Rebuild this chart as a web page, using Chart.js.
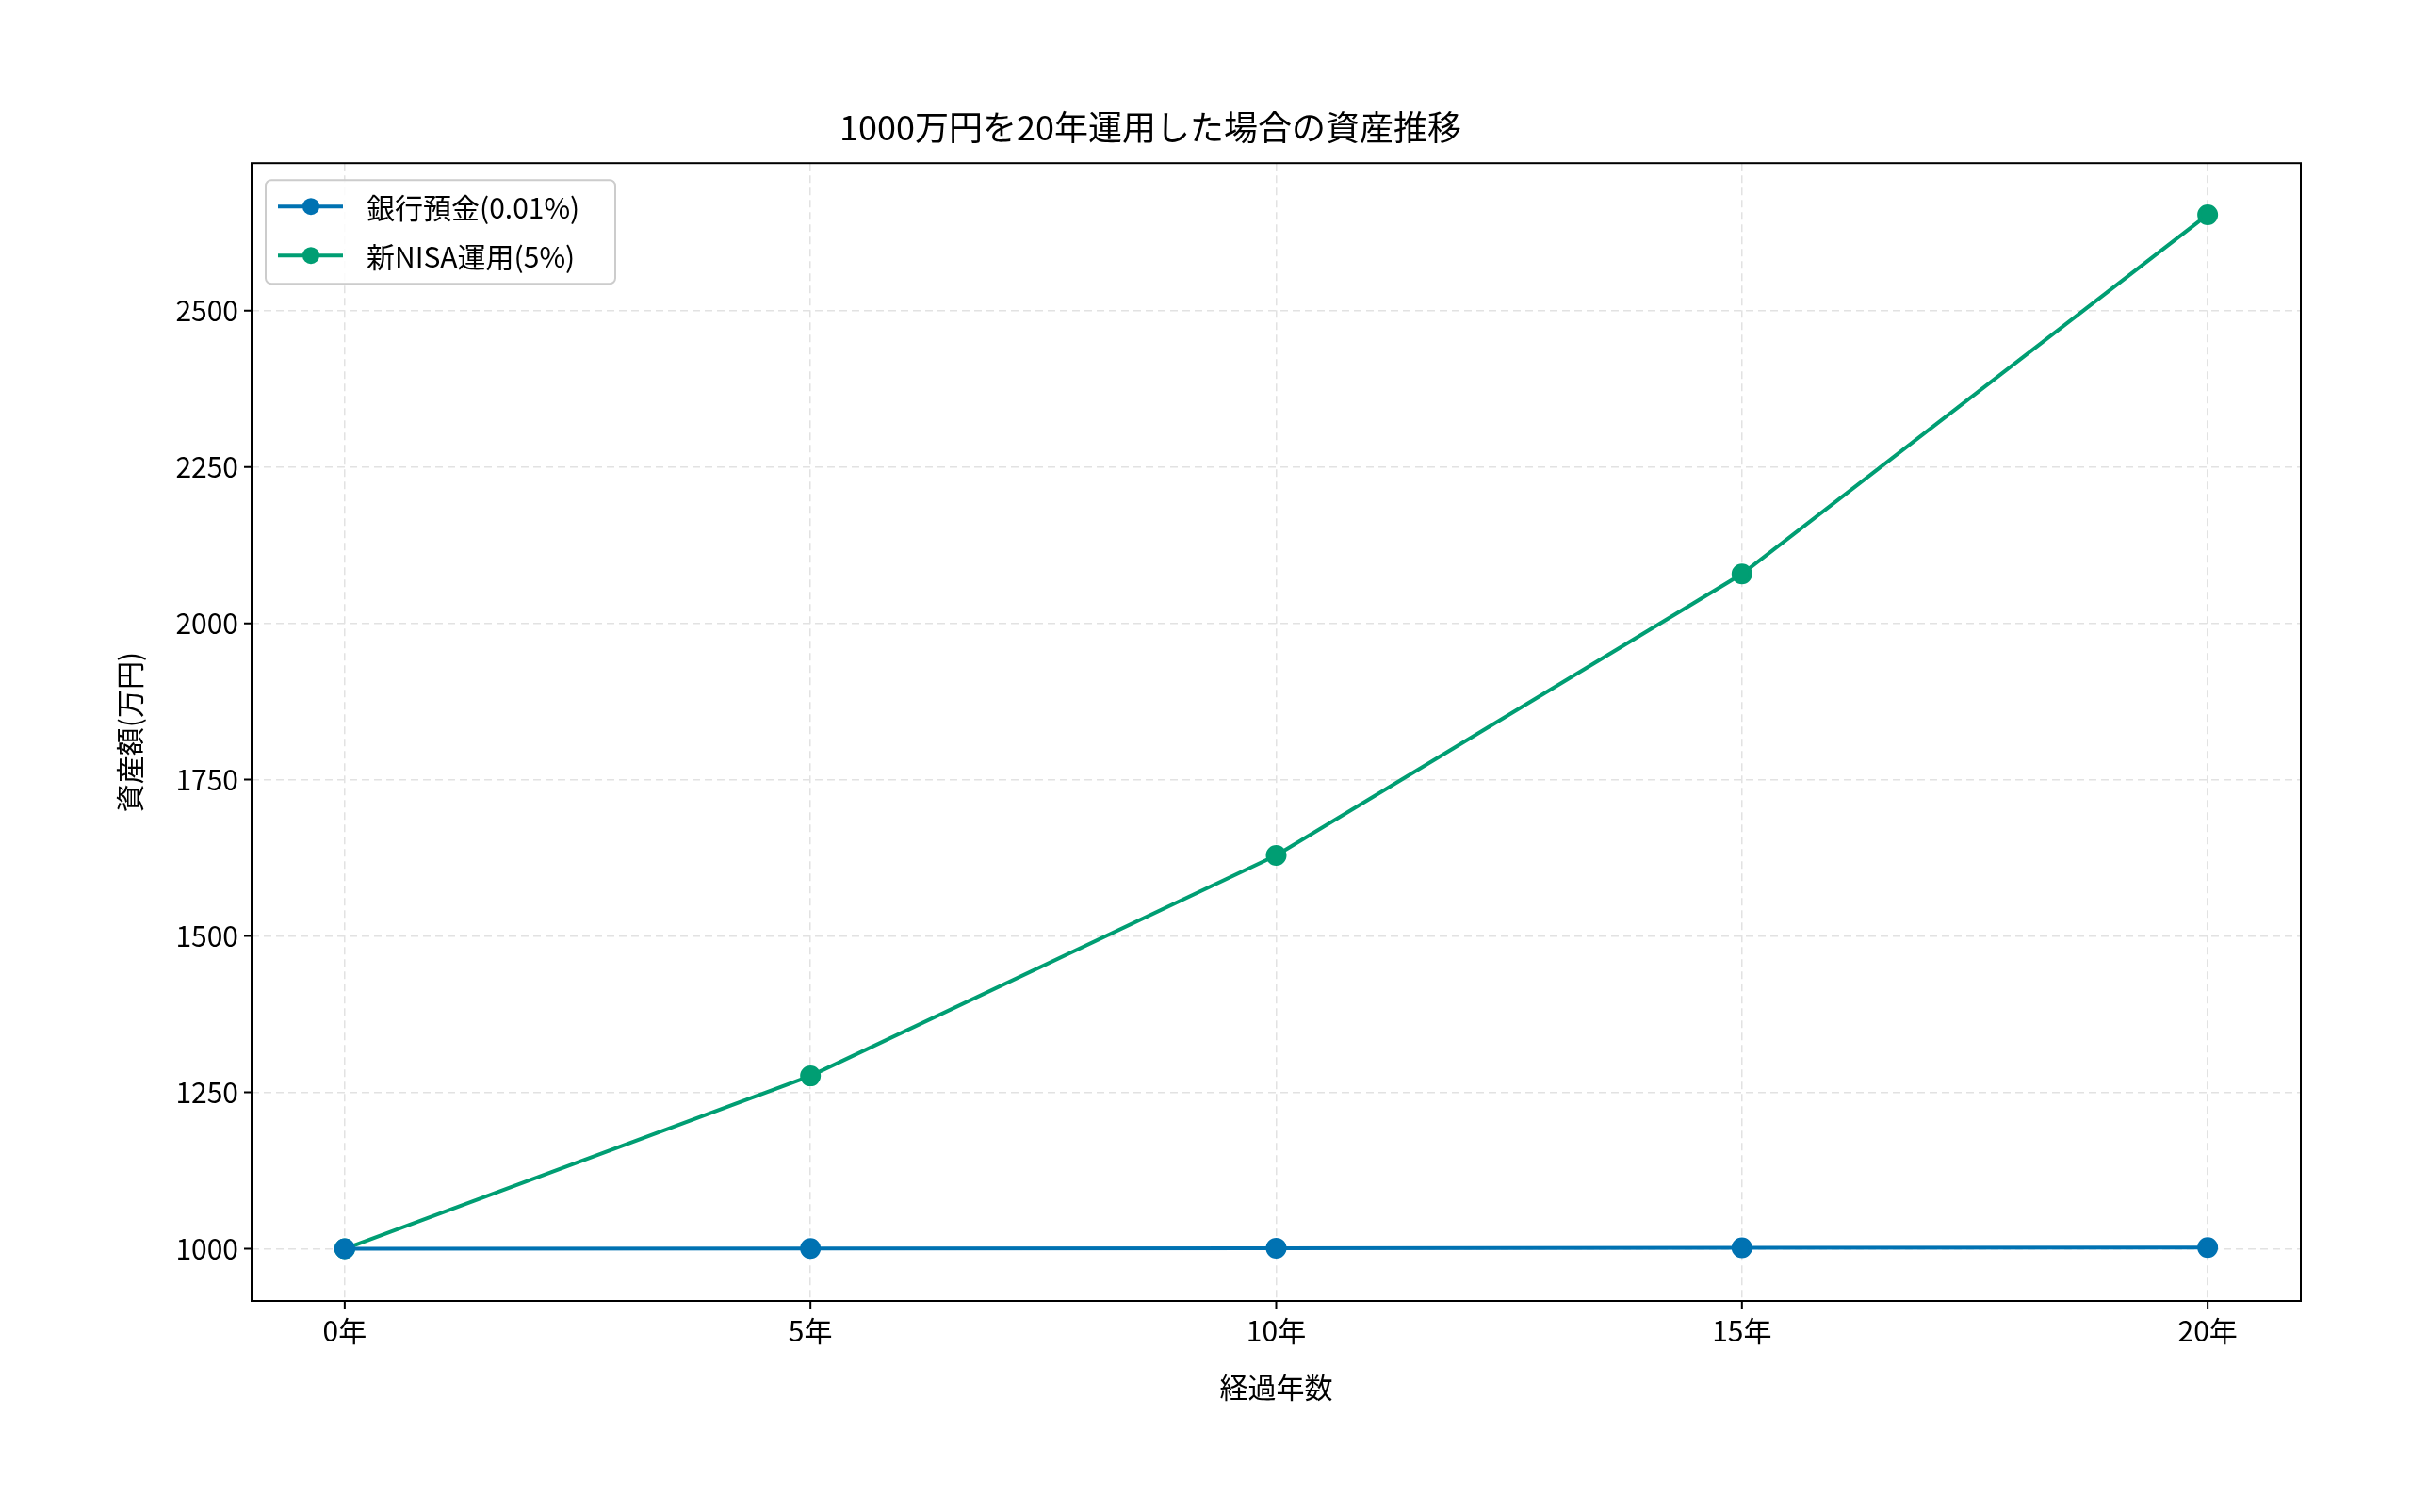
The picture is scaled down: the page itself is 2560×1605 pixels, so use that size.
<!DOCTYPE html>
<html><head><meta charset="utf-8">
<script src="https://cdn.jsdelivr.net/npm/chart.js@4/dist/chart.umd.min.js"></script>
<style>html,body{margin:0;background:#fff}#w{width:2560px;height:1605px}</style>
</head><body><div id="w"><canvas id="c"></canvas></div>
<script>
const years = [0, 5, 10, 15, 20];
const bankValues = [1000, 1000.5, 1001, 1001.5, 1002];
const nisaValues = [1000, 1276.3, 1628.9, 2078.9, 2653.3];
const yTicks = [1000, 1250, 1500, 1750, 2000, 2250, 2500];
const seriesNames = ['銀行預金(0.01%)', '新NISA運用(5%)'];
const colors = ['#0072B2', '#009E73'];
const F = "'Noto Sans CJK JP', 'Noto Sans', sans-serif";

const frame = {
  id: 'frame',
  afterDraw(ch) {
    const {ctx, chartArea: a, scales} = ch;
    ctx.save();
    ctx.strokeStyle = '#000'; ctx.lineWidth = 2;
    ctx.strokeRect(a.left, a.top, a.right - a.left, a.bottom - a.top);
    ctx.beginPath();
    years.forEach(v => { const x = scales.x.getPixelForValue(v); ctx.moveTo(x, a.bottom); ctx.lineTo(x, a.bottom + 8); });
    yTicks.forEach(v => { const y = scales.y.getPixelForValue(v); ctx.moveTo(a.left, y); ctx.lineTo(a.left - 8, y); });
    ctx.stroke();
    // axis titles
    ctx.fillStyle = '#000'; ctx.font = '30px ' + F;
    ctx.textAlign = 'center'; ctx.textBaseline = 'middle';
    ctx.fillText('経過年数', (a.left + a.right) / 2, 1473);
    ctx.save(); ctx.translate(138, (a.top + a.bottom) / 2); ctx.rotate(-Math.PI / 2);
    ctx.fillText('資産額(万円)', 0, 0); ctx.restore();
    // legend
    ctx.textAlign = 'left';
    const lx = a.left + 15, ly = a.top + 18, lw = 371, lh = 110;
    ctx.fillStyle = 'rgba(255,255,255,0.85)';
    ctx.strokeStyle = '#ccc'; ctx.lineWidth = 2;
    ctx.beginPath(); ctx.roundRect(lx, ly, lw, lh, 6); ctx.fill(); ctx.stroke();
    ctx.font = '30px ' + F;
    seriesNames.forEach((n, i) => {
      const y = ly + 28 + i * 52;
      ctx.strokeStyle = colors[i]; ctx.lineWidth = 4;
      ctx.beginPath(); ctx.moveTo(lx + 13, y); ctx.lineTo(lx + 82, y); ctx.stroke();
      ctx.fillStyle = colors[i];
      ctx.beginPath(); ctx.arc(lx + 48, y, 9, 0, Math.PI * 2); ctx.fill();
      ctx.fillStyle = '#000'; ctx.fillText(n, lx + 107, y + 1);
    });
    ctx.restore();
  }
};

new Chart(document.getElementById('c'), {
  type: 'line',
  data: {
    datasets: [
      {label: seriesNames[0], data: years.map((x, i) => ({x, y: bankValues[i]})), borderColor: colors[0], backgroundColor: colors[0], borderWidth: 4, pointRadius: 9, pointHoverRadius: 9},
      {label: seriesNames[1], data: years.map((x, i) => ({x, y: nisaValues[i]})), borderColor: colors[1], backgroundColor: colors[1], borderWidth: 4, pointRadius: 9, pointHoverRadius: 9}
    ]
  },
  options: {
    responsive: true, maintainAspectRatio: false, animation: false,
    layout: {padding: {top: 96, right: 118, left: 0, bottom: 0}},
    plugins: {
      legend: {display: false}, tooltip: {enabled: false},
      title: {display: true, text: '1000万円を20年運用した場合の資産推移', color: '#000', font: {family: F, size: 36, weight: 'normal'}, padding: {top: 18, bottom: 16}}
    },
    scales: {
      x: {
        type: 'linear', min: -1, max: 21,
        afterBuildTicks: s => { s.ticks = years.map(v => ({value: v})); },
        afterFit: s => { s.height = 224; },
        ticks: {color: '#000', font: {family: F, size: 30}, padding: 14, callback: v => v + '年'},
        grid: {color: '#e2e2e2', lineWidth: 1.5, drawTicks: false},
        border: {display: false, dash: [8, 5]}
      },
      y: {
        min: 916.5, max: 2735.7,
        afterBuildTicks: s => { s.ticks = yTicks.map(v => ({value: v})); },
        afterFit: s => { s.width = 267; },
        ticks: {color: '#000', font: {family: F, size: 30}, padding: 14, callback: v => String(v)},
        grid: {color: '#e2e2e2', lineWidth: 1.5, drawTicks: false},
        border: {display: false, dash: [8, 5]}
      }
    }
  },
  plugins: [frame]
});
</script></body></html>
